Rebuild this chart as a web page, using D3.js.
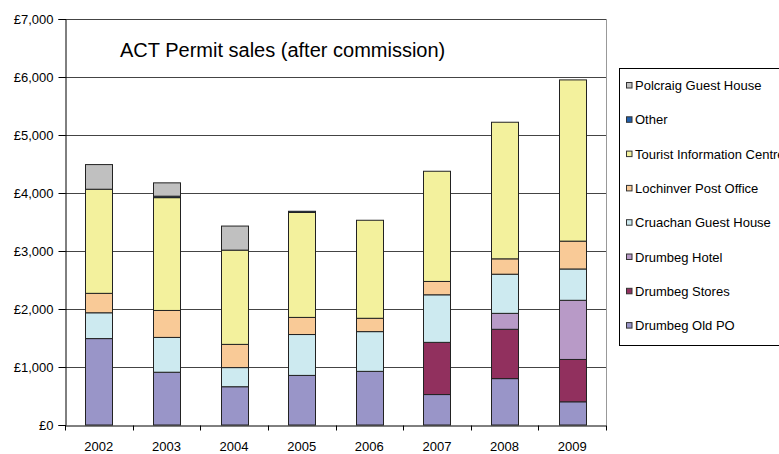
<!DOCTYPE html>
<html>
<head>
<meta charset="utf-8">
<script src="https://cdn.jsdelivr.net/npm/d3@7"></script>
<style>
  body { margin: 0; background: #fff; }
  svg { display: block; font-family: "Liberation Sans", Arial, sans-serif; }
</style>
</head>
<body>
<div id="chart"></div>
<script>
const years = ["2002", "2003", "2004", "2005", "2006", "2007", "2008", "2009"]

// values per outlet, bottom of the stack first
const drumbegOldPO   = [1490, 910, 660, 855, 925, 525, 800, 400]
const drumbegStores  = [0, 0, 0, 0, 0, 900, 850, 730]
const drumbegHotel   = [0, 0, 0, 0, 0, 0, 275, 1020]
const cruachan       = [445, 600, 330, 705, 685, 820, 675, 540]
const lochinverPO    = [335, 465, 400, 295, 230, 230, 265, 480]
const touristInfo    = [1795, 1945, 1625, 1810, 1690, 1900, 2355, 2780]
const other          = [0, 25, 0, 20, 0, 0, 0, 0]
const polcraig       = [425, 230, 415, 0, 0, 0, 0, 0]

const yTicks = [0, 1000, 2000, 3000, 4000, 5000, 6000, 7000]

const series = [
  { name: "Drumbeg Old PO", vals: drumbegOldPO, color: "#9995c8" },
  { name: "Drumbeg Stores", vals: drumbegStores, color: "#91305e" },
  { name: "Drumbeg Hotel", vals: drumbegHotel, color: "#b89ac7" },
  { name: "Cruachan Guest House", vals: cruachan, color: "#cdeaf0" },
  { name: "Lochinver Post Office", vals: lochinverPO, color: "#f9ca97" },
  { name: "Tourist Information Centre", vals: touristInfo, color: "#f3f19d" },
  { name: "Other", vals: other, color: "#1f5fae" },
  { name: "Polcraig Guest House", vals: polcraig, color: "#c0c0c0" }
]

const MARGIN = { TOP: 19, LEFT: 65 }
const W = 779, H = 454
const PLOT_W = 606 - MARGIN.LEFT
const PLOT_H = 425 - MARGIN.TOP

// table for d3.stack
const table = years.map((yr, i) => {
  const row = { year: yr }
  series.forEach(s => { row[s.name] = s.vals[i] })
  return row
})
const stacked = d3.stack().keys(series.map(s => s.name))(table)

const svg = d3.select("#chart").append("svg")
    .attr("width", W)
    .attr("height", H)

const g = svg.append("g")
    .attr("transform", `translate(${MARGIN.LEFT}, ${MARGIN.TOP})`)

const x = d3.scaleBand().domain(years).range([0, PLOT_W]).paddingInner(0.6).paddingOuter(0.3)
const xb = d3.scaleBand().domain(years).range([0, PLOT_W])
const y = d3.scaleLinear().domain([0, 7000]).range([PLOT_H, 0])

// gridlines
g.selectAll("line.grid").data(yTicks.slice(1)).enter().append("line")
    .attr("x1", 0).attr("x2", PLOT_W)
    .attr("y1", d => Math.round(y(d)) + 0.5).attr("y2", d => Math.round(y(d)) + 0.5)
    .attr("stroke", "#444").attr("stroke-width", 1)

// right border of plot
g.append("line")
    .attr("x1", PLOT_W + 0.5).attr("x2", PLOT_W + 0.5)
    .attr("y1", 0).attr("y2", PLOT_H)
    .attr("stroke", "#999")

// bars
const layers = g.selectAll("g.layer").data(stacked).enter().append("g")
    .attr("fill", (d, i) => series[i].color)
layers.selectAll("rect").data(d => d.filter(p => p[1] - p[0] > 0)).enter().append("rect")
    .attr("x", d => Math.round(x(d.data.year)) + 0.5)
    .attr("width", Math.round(x.bandwidth()))
    .attr("y", d => y(d[1]))
    .attr("height", d => y(d[0]) - y(d[1]))
    .attr("stroke", "#222")
    .attr("stroke-width", 1)

// y axis
const yAxis = g.append("g")
    .attr("transform", "translate(0.5, 0)")
    .call(d3.axisLeft(y).tickValues(yTicks).tickSize(7).tickPadding(5)
      .tickFormat(d => "£" + d3.format(",")(d)))
yAxis.select(".domain").attr("stroke", "#000")
yAxis.selectAll("text").attr("font-size", 13).attr("fill", "#000")
    .attr("font-family", "Liberation Sans, Arial, sans-serif")

// x axis
const xAxis = g.append("g")
    .attr("transform", `translate(0, ${PLOT_H + 0.5})`)
    .call(d3.axisBottom(xb).tickSize(0).tickPadding(16))
xAxis.select(".domain").attr("stroke", "#000")
xAxis.selectAll("text").attr("font-size", 13).attr("fill", "#000")
    .attr("font-family", "Liberation Sans, Arial, sans-serif")
xAxis.selectAll("line.sep").data(years.concat(["end"])).enter().append("line")
    .attr("x1", (d, i) => Math.round(i * xb.step()) + 0.5)
    .attr("x2", (d, i) => Math.round(i * xb.step()) + 0.5)
    .attr("y1", 0).attr("y2", 5)
    .attr("stroke", "#000")

// title
svg.append("text")
    .attr("x", 120).attr("y", 57)
    .attr("font-size", 20)
    .text("ACT Permit sales (after commission)")

// legend
const legend = svg.append("g").attr("transform", "translate(619.5, 68.5)")
legend.append("rect")
    .attr("width", 200).attr("height", 277)
    .attr("fill", "#fff").attr("stroke", "#000")
const items = legend.selectAll("g.item").data(series.slice().reverse()).enter().append("g")
    .attr("transform", (d, i) => `translate(0, ${17 + i * 34.3})`)
items.append("rect")
    .attr("x", 7).attr("y", -3).attr("width", 5.5).attr("height", 5.5)
    .attr("fill", d => d.color).attr("stroke", "#333")
items.append("text")
    .attr("x", 15.5).attr("y", 4.5)
    .attr("font-size", 13)
    .text(d => d.name)
</script>
</body>
</html>
